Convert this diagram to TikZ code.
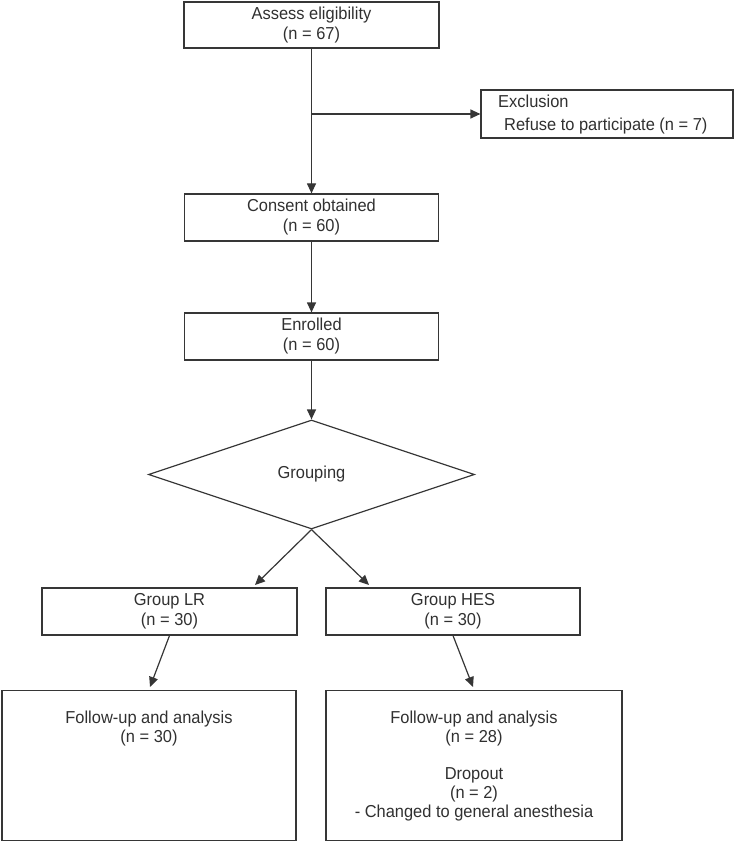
\documentclass[tikz,border=0pt]{standalone}
\usepackage{fontspec}
\setmainfont[FakeStretch=0.95]{Liberation Sans}
\usetikzlibrary{arrows.meta,shapes.geometric}
\definecolor{lncol}{HTML}{363636}
\definecolor{txcol}{HTML}{303030}
\begin{document}
\begin{tikzpicture}[x=1pt,y=-1pt,
  box/.style={draw=lncol,line width=1.2pt,rectangle,inner sep=0pt,text=txcol,align=center,font=\fontsize{17.3}{20}\selectfont},
  txt/.style={inner sep=0pt,text=txcol,align=center,font=\fontsize{17.3}{19}\selectfont},
  arr/.style={draw=lncol,line width=1.2pt,-{Triangle[length=10pt,width=9pt]}}
]
\useasboundingbox (0,0) rectangle (735,842);

\node[box,minimum width=255pt,minimum height=46pt] (assess) at (311.5,25) {Assess eligibility\\(n = 67)};
\node[box,minimum width=252pt,minimum height=48pt] (excl) at (607,114) {};
\node[txt,anchor=west,align=left,font=\fontsize{17.3}{23}\selectfont] (exclt) at (498,115) {Exclusion\\\hspace*{6pt}Refuse to participate (n = 7)};
\node[box,minimum width=254pt,minimum height=47pt] (consent) at (311.5,217.5) {Consent obtained\\(n = 60)};
\node[box,minimum width=254pt,minimum height=47pt] (enrol) at (311.5,336.5) {Enrolled\\(n = 60)};
\node[draw=lncol,line width=1.2pt,diamond,minimum width=326pt,minimum height=109pt,inner sep=0pt,text=txcol,font=\fontsize{17.3}{20}\selectfont] (grp) at (311.5,474.5) {Grouping};
\node[box,minimum width=255pt,minimum height=47pt] (lr) at (169.5,611.5) {Group LR\\(n = 30)};
\node[box,minimum width=254pt,minimum height=47pt] (hes) at (453,611.5) {Group HES\\(n = 30)};
\node[box,minimum width=294pt,minimum height=150pt] (lfu) at (149,765.5) {};
\node[box,minimum width=296pt,minimum height=150pt] (rfu) at (474,765.5) {};
\node[txt,anchor=north] (lfut) at (149,710.5) {Follow-up and analysis\\(n = 30)};
\node[txt,anchor=north] (rfut) at (474,710.5) {Follow-up and analysis\\(n = 28)\\[18pt]Dropout\\(n = 2)\\- Changed to general anesthesia};

\coordinate (tl) at (255,585);
\coordinate (tr) at (369,585);
\coordinate (bl) at (150,687);
\coordinate (brr) at (473,687);

\draw[arr] (assess.south) -- (consent.north);
\draw[arr] (assess.south |- excl.west) -- (excl.west);
\draw[arr] (consent.south) -- (enrol.north);
\draw[arr] (enrol.south) -- (grp.north);
\draw[arr] (grp.south) -- (tl);
\draw[arr] (grp.south) -- (tr);
\draw[arr] (lr.south) -- (bl);
\draw[arr] (hes.south) -- (brr);
\end{tikzpicture}
\end{document}
